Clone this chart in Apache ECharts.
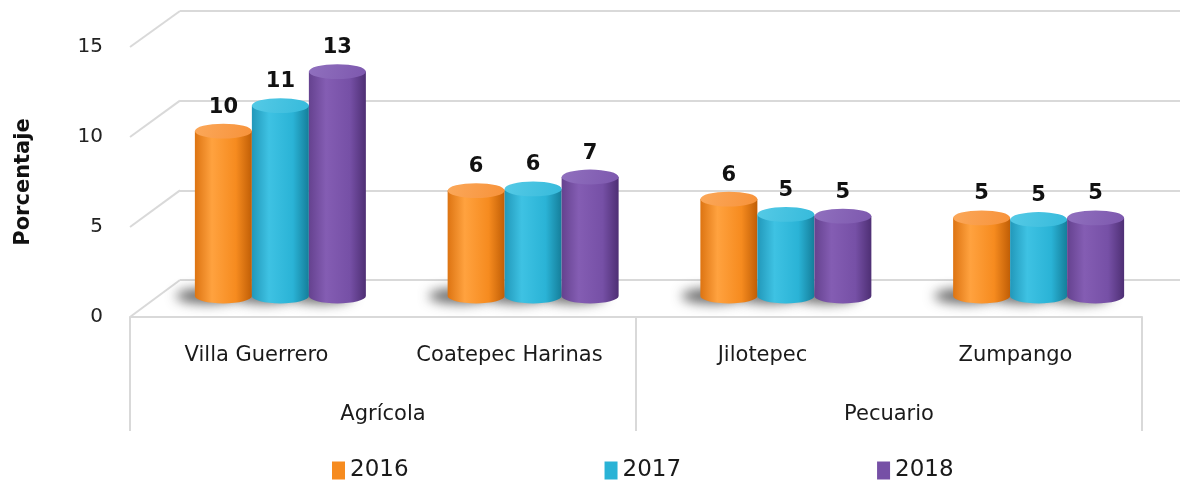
<!DOCTYPE html>
<html>
<head>
<meta charset="utf-8">
<script src="https://cdn.jsdelivr.net/npm/echarts@6/dist/echarts.min.js"></script>
<style>
html,body{margin:0;padding:0;background:#fff;}
#c{width:1180px;height:489px;}
</style>
</head>
<body>
<div id="c"></div>
<script>
// ---- data ----
const categories = ['Villa Guerrero', 'Coatepec Harinas', 'Jilotepec', 'Zumpango'];
const groups = ['Agrícola', 'Pecuario'];
const seriesNames = ['2016', '2017', '2018'];
const values2016 = [9.7, 6.2, 5.7, 4.6];
const values2017 = [11.2, 6.3, 4.8, 4.5];
const values2018 = [13.2, 7.0, 4.7, 4.6];
const yTicks = [0, 5, 10, 15];

// ---- styles ----
const palette = [
  {main: '#F68B1F', edge: '#DD7412', dark: '#C05E06', light: '#FFA23F', cap: '#F7923A', capLight: '#FBA85A'},
  {main: '#2AB3D6', edge: '#2298BA', dark: '#157E9A', light: '#3EC2E3', cap: '#36BADB', capLight: '#55CAE6'},
  {main: '#7650A6', edge: '#65428F', dark: '#4E2F74', light: '#845DB3', cap: '#7D58AE', capLight: '#9070BE'}
];
const FONT = 'DejaVu Sans';

const chart = echarts.init(document.getElementById('c'), null, {renderer: 'canvas'});

function lg(c) {
  return new echarts.graphic.LinearGradient(0, 0, 1, 0, [
    {offset: 0, color: c.edge},
    {offset: 0.3, color: c.light},
    {offset: 0.72, color: c.main},
    {offset: 1, color: c.dark}
  ]);
}
function capGrad(c) {
  return new echarts.graphic.LinearGradient(0, 0, 1, 1, [
    {offset: 0, color: c.capLight},
    {offset: 1, color: c.cap}
  ]);
}
function ellipsePath(cx, cy, rx, ry) {
  return 'M' + (cx - rx) + ' ' + cy + ' A' + rx + ' ' + ry + ' 0 1 0 ' + (cx + rx) + ' ' + cy +
    ' A' + rx + ' ' + ry + ' 0 1 0 ' + (cx - rx) + ' ' + cy + ' Z';
}

const FAR = 3000;
function makeRender(sIdx) {
  const c = palette[sIdx];
  return function (params, api) {
    const i = api.value(0);
    const v = api.value(1);
    const base = api.coord([i, 0]);
    const top = api.coord([i, v]);
    const band = api.size([1, 0])[0];
    const w = band * 0.2255;
    const cx = base[0] + (sIdx - 1) * w;
    const x0 = cx - w / 2, x1 = cx + w / 2;
    const rx = w / 2, ry = w * 0.13;
    const yb = base[1], yt = top[1];
    const body = 'M' + x0 + ' ' + yt + ' L' + x0 + ' ' + yb +
      ' A' + rx + ' ' + ry + ' 0 0 0 ' + x1 + ' ' + yb +
      ' L' + x1 + ' ' + yt + ' Z';
    return {
      type: 'group',
      children: [
        {
          // soft floor shadow (only the blurred shadow is visible)
          type: 'path', z2: -10, silent: true,
          shape: {pathData: ellipsePath(cx - 16, yb + FAR, rx * 1.1, ry * 1.0)},
          style: {fill: '#000', shadowBlur: 12, shadowOffsetY: -FAR, shadowColor: 'rgba(50,50,50,0.75)'}
        },
        {
          type: 'path', z2: 1,
          shape: {pathData: body},
          style: {fill: lg(c)}
        },
        {
          type: 'path', z2: 2,
          shape: {pathData: ellipsePath(cx, yt, rx, ry)},
          style: {fill: capGrad(c)}
        },
        {
          type: 'text', z2: 3,
          style: {
            text: String(Math.round(v)),
            x: cx, y: yt - ry - 6,
            align: 'center', verticalAlign: 'bottom',
            font: 'bold 21px "' + FONT + '"',
            fill: '#111'
          }
        }
      ]
    };
  };
}

const allValues = [values2016, values2017, values2018];
const series = seriesNames.map(function (name, s) {
  return {
    name: name,
    type: 'custom',
    xAxisIndex: 3,
    yAxisIndex: 2,
    itemStyle: {color: palette[s].main},
    data: allValues[s].map(function (v, i) { return [i, v]; }),
    renderItem: makeRender(s),
    clip: false,
    animation: false
  };
});

const option = {
  animation: false,
  backgroundColor: '#ffffff',
  textStyle: {fontFamily: FONT},
  grid: [
    {left: 130, right: 38, top: 47, bottom: 172},   // front axes
    {left: 180, right: 0, top: 11, bottom: 209},    // back wall
    {left: 154, right: 15, top: 41, bottom: 193}    // bars (mid depth)
  ],
  xAxis: [
    {
      type: 'category', gridIndex: 0, data: categories,
      axisLine: {show: true, lineStyle: {color: '#d9d9d9', width: 2}},
      axisTick: {show: false},
      axisLabel: {margin: 28, color: '#1a1a1a', fontSize: 21, fontFamily: FONT}
    },
    {
      type: 'category', gridIndex: 0, data: groups, position: 'bottom',
      axisLine: {show: false},
      axisTick: {show: true, length: 114, lineStyle: {color: '#d9d9d9', width: 2}},
      axisLabel: {margin: 87, color: '#1a1a1a', fontSize: 21, fontFamily: FONT}
    },
    {type: 'category', gridIndex: 1, data: categories, show: false},
    {type: 'category', gridIndex: 2, data: categories, show: false}
  ],
  yAxis: [
    {
      type: 'value', gridIndex: 0, min: 0, max: 15, interval: 5,
      axisLine: {show: false}, axisTick: {show: false}, splitLine: {show: false},
      axisLabel: {margin: 27, color: '#222', fontSize: 20, fontFamily: FONT},
      name: 'Porcentaje', nameLocation: 'middle', nameGap: 96,
      nameTextStyle: {fontWeight: 'bold', fontSize: 21, color: '#111', fontFamily: FONT}
    },
    {
      type: 'value', gridIndex: 1, min: 0, max: 15, interval: 5,
      axisLine: {show: false}, axisTick: {show: false}, axisLabel: {show: false},
      splitLine: {show: true, lineStyle: {color: '#d9d9d9', width: 2}}
    },
    {type: 'value', gridIndex: 2, min: 0, max: 15, show: false, splitLine: {show: false}}
  ],
  legend: {
    data: seriesNames,
    left: 327, bottom: 2,
    icon: 'rect', itemWidth: 13, itemHeight: 18, itemGap: 196,
    textStyle: {fontSize: 23, color: '#1a1a1a', fontFamily: FONT}
  },
  series: series
};
chart.setOption(option);

// left-wall diagonals, derived from the axes' scales
const frontLeft = 130, backLeft = 180;
const lines = yTicks.map(function (t) {
  const yf = chart.convertToPixel({yAxisIndex: 0}, t);
  const yb = chart.convertToPixel({yAxisIndex: 1}, t);
  return {
    type: 'line', silent: true, z: 0,
    shape: {x1: frontLeft, y1: yf, x2: backLeft, y2: yb},
    style: {stroke: '#d9d9d9', lineWidth: 2}
  };
});
chart.setOption({graphic: lines});
</script>
</body>
</html>
